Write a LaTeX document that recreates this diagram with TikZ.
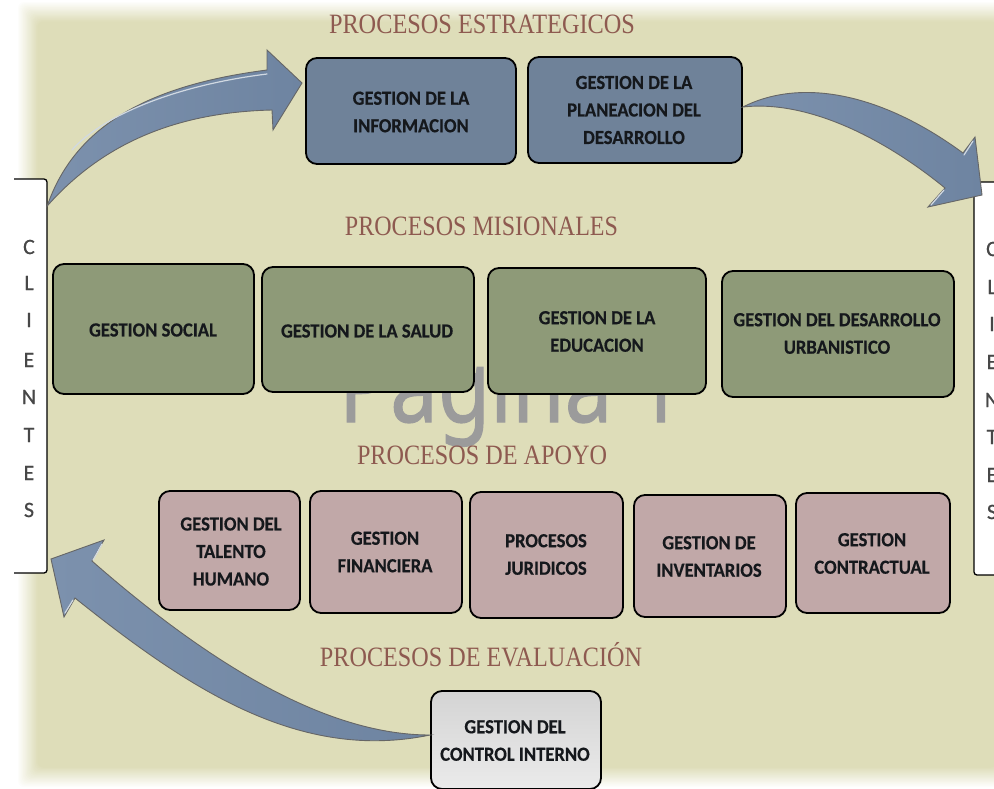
\documentclass[tikz,border=0pt]{standalone}
\usepackage{fontspec}
\usepackage{graphicx}
\setmainfont{Carlito}
\newfontfamily\serifttl{Liberation Serif}
\newfontfamily\wmfont[FakeBold=1.2]{Noto Sans}
\newfontfamily\labf[FakeStretch=0.93,FakeBold=0.4]{Carlito Bold}
\newfontfamily\letf[FakeBold=0.5]{Carlito}
\usetikzlibrary{calc}
\definecolor{bgc}{HTML}{DEDDB9}
\definecolor{ttlc}{HTML}{8E5A50}
\definecolor{bluec}{HTML}{6F8299}
\definecolor{greenc}{HTML}{8E9A78}
\definecolor{pinkc}{HTML}{C1A8A8}
\definecolor{arrowa}{HTML}{7C91AD}
\definecolor{arrowb}{HTML}{6E84A1}
\definecolor{txtc}{HTML}{15181C}
\definecolor{wmc}{HTML}{9B9B9B}
\newcommand{\ttl}[2]{\resizebox{#1pt}{\height}{\serifttl\fontsize{28}{28}\selectfont #2}}
\tikzset{
  boxbase/.style={draw=black,line width=1.8pt,rounded corners=11pt,inner sep=0pt},
  blueb/.style={boxbase,fill=bluec},
  greenb/.style={boxbase,fill=greenc},
  pinkb/.style={boxbase,fill=pinkc},
  greyb/.style={boxbase,top color=black!17,bottom color=black!8},
  sidebox/.style={fill=white,draw=none,inner sep=0pt},
  sideline/.style={draw=black,line width=1.3pt,rounded corners=3pt},
  lab/.style={font=\fontsize{20}{27.5}\labf,text=txtc,align=center,inner sep=0pt},
  letter/.style={font=\fontsize{22}{22}\letf,text=black!72,inner sep=0pt},
  titlenode/.style={text=ttlc,anchor=base,inner sep=0pt},
  curvearrow/.style={left color=arrowa,right color=arrowb,draw=black!60,line width=.9pt,line join=miter},
  glint/.style={draw=white!65!arrowa,line width=1.2pt,line cap=round},
}
\begin{document}
\begin{tikzpicture}[x=1pt,y=-1pt]
\useasboundingbox (0,0) rectangle (994,788);
\clip (0,0) rectangle (994,788);
% faded page
\foreach \i in {0,...,15}{
  \pgfmathsetmacro{\m}{(\i+1)*100/16}
  \pgfmathsetmacro{\d}{\i*1.3}
  \fill[bgc!\m!white,rounded corners=6pt] (18+\d,2+\d) rectangle (1016-\d,787-\d);
}
% watermark
\node[anchor=base,inner sep=0pt,text=wmc] (wm) at (511,422)
  {\scalebox{1}[1.2]{\wmfont\fontsize{85}{85}\selectfont Pagina 1}};
% titles
\node[titlenode] (t1) at (482,33) {\ttl{306}{PROCESOS ESTRATEGICOS}};
\node[titlenode] (t2) at (481.5,235) {\ttl{273}{PROCESOS MISIONALES}};
\node[titlenode] (t3) at (482,464) {\ttl{250}{PROCESOS DE APOYO}};
\node[titlenode] (t4) at (481,666) {\ttl{322}{PROCESOS DE EVALUACIÓN}};
% side boxes
\node[sidebox,minimum width=47pt,minimum height=394pt] (cliL) at (23.5,376) {};
\draw[sideline] (14,179) -- (47,179) -- (47,573) -- (14,573);
\node[sidebox,minimum width=40pt,minimum height=393pt] (cliR) at (994,378.5) {};
\draw[sideline] (1000,182) -- (974,182) -- (974,575) -- (1000,575);
\foreach \ch/\yy [count=\k] in {C/247,L/283,I/320,E/360,N/397,T/435,E/473,S/510}
  \node[letter] (la\k) at (29,\yy) {\ch};
\foreach \ch/\yy [count=\k] in {C/249,L/287,I/324,E/362,N/400,T/437,E/475,S/512}
  \node[letter] (lb\k) at (992,\yy) {\ch};
% boxes
\node[blueb,minimum width=210pt,minimum height=106pt] (info) at (411,111) {};
\node[blueb,minimum width=214pt,minimum height=106pt] (plan) at (635,110) {};
\node[greenb,minimum width=201pt,minimum height=130pt] (soc) at (153.5,329) {};
\node[greenb,minimum width=212pt,minimum height=125pt] (sal) at (368,329.5) {};
\node[greenb,minimum width=218pt,minimum height=126pt] (edu) at (597,331) {};
\node[greenb,minimum width=232pt,minimum height=126pt] (urb) at (838,334) {};
\node[pinkb,minimum width=141pt,minimum height=119pt] (tal) at (229.5,550.5) {};
\node[pinkb,minimum width=152pt,minimum height=122pt] (fin) at (386,552) {};
\node[pinkb,minimum width=153pt,minimum height=126pt] (jur) at (546.5,555) {};
\node[pinkb,minimum width=152pt,minimum height=122pt] (inv) at (710,556) {};
\node[pinkb,minimum width=154pt,minimum height=120pt] (con) at (873,553) {};
\node[greyb,minimum width=170pt,minimum height=98pt] (ctl) at (516,740) {};
% labels
\node[lab] (linfo) at (411,112) {GESTION DE LA\\INFORMACION};
\node[lab] (lplan) at (634,110) {GESTION DE LA\\PLANEACION DEL\\DESARROLLO};
\node[lab] (lsoc) at (153,330) {GESTION SOCIAL};
\node[lab] (lsal) at (367,331) {GESTION DE LA SALUD};
\node[lab] (ledu) at (597,331.5) {GESTION DE LA\\EDUCACION};
\node[lab] (lurb) at (837,333.5) {GESTION DEL DESARROLLO\\URBANISTICO};
\node[lab] (ltal) at (231,551.5) {GESTION DEL\\TALENTO\\HUMANO};
\node[lab] (lfin) at (385,552) {GESTION\\FINANCIERA};
\node[lab] (ljur) at (546,554.5) {PROCESOS\\JURIDICOS};
\node[lab] (linv) at (709,556.5) {GESTION DE\\INVENTARIOS};
\node[lab] (lcon) at (872,553.5) {GESTION\\CONTRACTUAL};
\node[lab] (lctl) at (515,740.5) {GESTION DEL\\CONTROL INTERNO};
% connectors (filled curved arrows)
\coordinate (a1s) at (cliL.east |- 0,206);
\coordinate (a1e) at (302,83);
\coordinate (a2s) at (plan.east |- 0,107);
\coordinate (a2e) at (982,195);
\coordinate (a3s) at (ctl.west |- 0,735);
\coordinate (a3e) at (51,559);
\path[curvearrow] (a1s) .. controls (75,125) and (150,85) .. (267,70) -- (267,50) -- (a1e) -- (273,130) -- (272,110)
   .. controls (190,112) and (110,135) .. (a1s) -- cycle;
\draw[glint] (72,150) .. controls (100,118) and (170,86) .. (267,74);
\path[curvearrow] (a2s) .. controls (800,78) and (880,92) .. (963,153) -- (975,137) -- (a2e) -- (928,207) -- (945,188)
   .. controls (880,135) and (805,100) .. (a2s) -- cycle;
\draw[glint] (964,155) -- (973,141);
\draw[glint] (931,205) -- (944,190);
\path[curvearrow] (a3s) .. controls (340,735) and (230,682) .. (92,561) -- (104,540) -- (a3e) -- (64,617) -- (75,598)
   .. controls (190,690) and (300,762) .. (a3s) -- cycle;
\draw[glint] (93,560) -- (102,544);
\draw[glint] (65,613) -- (73,600);
\end{tikzpicture}
\end{document}
